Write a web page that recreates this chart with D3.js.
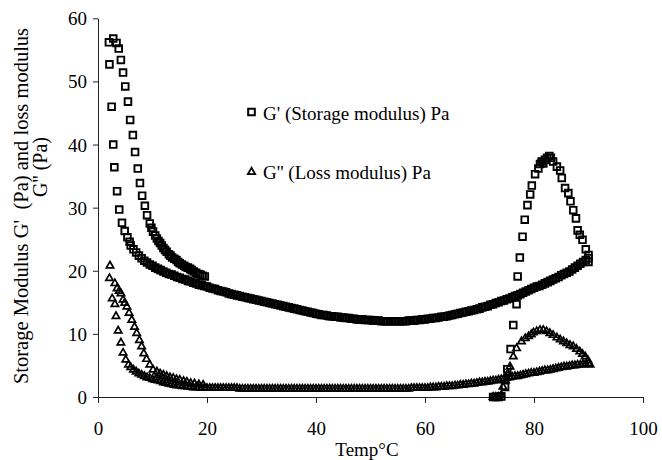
<!DOCTYPE html>
<html><head><meta charset="utf-8">
<script src="https://cdn.jsdelivr.net/npm/d3@7"></script>
<style>
body{margin:0;background:#fff}
svg text{font-family:"Liberation Serif","Times New Roman",serif;fill:#000}
</style>
</head><body>
<svg id="chart" width="662" height="460"></svg>
<script>
// ---------- DATA ----------
const xTicks = [0, 20, 40, 60, 80, 100];
const yTicks = [0, 10, 20, 30, 40, 50, 60];
const xTitle = "Temp\u00B0C";
const yTitle1 = "Storage Modulus G'  (Pa) and loss modulus";
const yTitle2 = "G'' (Pa)";
const legendLabels = ["G' (Storage modulus) Pa", "G'' (Loss modulus) Pa"];

// dense common band (both moduli sampled at the same temperatures)
const bandTemp = [
  6,6.5,7,7.5,8,8.5,9,9.5,10,10.5,
  11,11.5,12,12.5,13,13.5,14,14.5,15,15.5,
  16,16.5,17,17.5,18,18.5,19,19.5,20,20.5,
  21,21.5,22,22.5,23,23.5,24,24.5,25,25.5,
  26,26.5,27,27.5,28,28.5,29,29.5,30,30.5,
  31,31.5,32,32.5,33,33.5,34,34.5,35,35.5,
  36,36.5,37,37.5,38,38.5,39,39.5,40,40.5,
  41,41.5,42,42.5,43,43.5,44,44.5,45,45.5,
  46,46.5,47,47.5,48,48.5,49,49.5,50,50.5,
  51,51.5,52,52.5,53,53.5,54,54.5,55,55.5,
  56,56.5,57,57.5,58,58.5,59,59.5,60,60.5,
  61,61.5,62,62.5,63,63.5,64,64.5,65,65.5,
  66,66.5,67,67.5,68,68.5,69,69.5,70,70.5,
  71,71.5,72,72.5,73,73.5,74,74.5,75,75.5,
  76,76.5,77,77.5,78,78.5,79,79.5,80,80.5,
  81,81.5,82,82.5,83,83.5,84,84.5,85,85.5,
  86,86.5,87,87.5,88,88.5,89,89.5,90
];
const bandStorage = [
  24.0,23.4,22.9,22.4,22.0,21.6,21.3,21.0,20.8,20.5,
  20.3,20.1,19.9,19.7,19.5,19.4,19.2,19.0,18.9,18.7,
  18.6,18.4,18.3,18.1,18.0,17.8,17.7,17.6,17.5,17.3,
  17.2,17.1,16.9,16.8,16.7,16.6,16.4,16.3,16.2,16.1,
  16.0,15.9,15.8,15.7,15.6,15.5,15.4,15.3,15.2,15.1,
  15.0,14.9,14.8,14.7,14.6,14.5,14.4,14.3,14.2,14.1,
  14.0,13.9,13.8,13.7,13.6,13.5,13.4,13.3,13.2,13.1,
  13.0,13.0,12.9,12.8,12.8,12.7,12.7,12.6,12.6,12.5,
  12.5,12.4,12.4,12.3,12.3,12.3,12.2,12.2,12.2,12.1,
  12.1,12.1,12.0,12.0,12.0,12.0,12.0,12.0,12.0,12.0,
  12.0,12.0,12.1,12.1,12.1,12.2,12.2,12.3,12.3,12.4,
  12.4,12.5,12.5,12.6,12.7,12.7,12.8,12.9,13.0,13.1,
  13.2,13.3,13.4,13.5,13.6,13.7,13.8,13.9,14.0,14.2,
  14.3,14.4,14.6,14.7,14.9,15.0,15.2,15.3,15.5,15.6,
  15.8,16.0,16.1,16.3,16.5,16.7,16.9,17.1,17.3,17.5,
  17.6,17.8,18.0,18.2,18.4,18.6,18.8,19.0,19.3,19.5,
  19.7,19.9,20.2,20.5,20.8,21.1,21.4,21.7,22.0
];
const bandLoss = [
  4.7,4.3,4.0,3.7,3.5,3.3,3.1,3.0,2.8,2.7,
  2.6,2.5,2.3,2.2,2.1,2.0,1.9,1.8,1.8,1.7,
  1.7,1.6,1.6,1.5,1.5,1.5,1.4,1.4,1.4,1.4,
  1.4,1.4,1.4,1.4,1.4,1.4,1.4,1.4,1.4,1.4,
  1.3,1.3,1.3,1.3,1.3,1.3,1.3,1.3,1.3,1.3,
  1.3,1.3,1.3,1.3,1.3,1.3,1.3,1.3,1.3,1.3,
  1.3,1.3,1.3,1.3,1.3,1.3,1.3,1.3,1.3,1.3,
  1.3,1.3,1.3,1.3,1.3,1.3,1.3,1.3,1.3,1.3,
  1.3,1.3,1.3,1.3,1.3,1.3,1.3,1.3,1.3,1.3,
  1.3,1.3,1.3,1.3,1.3,1.3,1.3,1.3,1.3,1.3,
  1.3,1.3,1.3,1.4,1.4,1.4,1.4,1.4,1.4,1.4,
  1.5,1.5,1.5,1.6,1.6,1.6,1.7,1.7,1.7,1.8,
  1.8,1.9,1.9,2.0,2.0,2.1,2.1,2.2,2.3,2.3,
  2.4,2.4,2.5,2.6,2.6,2.7,2.8,2.9,3.0,3.1,
  3.2,3.3,3.3,3.4,3.5,3.6,3.7,3.8,3.8,3.9,
  4.0,4.1,4.2,4.2,4.3,4.4,4.5,4.6,4.7,4.8,
  4.8,4.9,5.0,5.0,5.1,5.1,5.2,5.2,5.3
];

// G' (storage) low-temperature branches
const storageInnerTemp = [2.0,2.1,2.5,2.8,3.0,3.5,3.9,4.4,4.9,5.4,5.8];
const storageInnerVal  = [56.2,52.7,46.0,40.0,36.4,32.6,29.7,27.6,26.3,25.3,24.6];
const storageOuterTemp = [2.8,3.4,3.8,4.2,4.6,5.0,5.5,5.9,6.4,6.8,7.3,7.7,8.1,8.6,9.0,9.5,9.8,10.1,10.5,10.8,11.1,11.4,11.7,12.0,12.3,12.6,13.0,13.3,13.6,14.0,14.4,14.7,15.0,15.4,15.8,16.1,16.5,16.9,17.2,17.6,18.0,18.4,18.8,19.2,19.6];
const storageOuterVal  = [56.8,56.1,55.2,53.4,51.4,49.2,46.8,43.9,41.5,38.8,36.2,33.9,31.9,30.3,28.8,27.5,26.8,26.2,25.6,25.1,24.7,24.4,24.0,23.6,23.3,23.0,22.6,22.4,22.1,21.9,21.7,21.4,21.2,21.0,20.8,20.6,20.5,20.3,20.1,19.9,19.7,19.5,19.4,19.2,19.1];
// G' (storage) high-temperature peak
const storagePeakTemp = [72.5,73.0,73.5,74.0,74.7,75.1,75.7,76.2,76.8,77.0,77.4,77.9,78.3,78.8,79.3,79.6,80.2,80.8,81.1,81.4,81.7,82.0,82.4,82.8,83.1,83.5,84.2,84.8,85.1,85.7,86.3,86.7,87.2,87.7,88.0,88.4,88.9,89.5,90.0,90.0];
const storagePeakVal  = [0.0,0.0,0.0,0.1,1.6,4.4,7.6,11.4,14.7,19.1,22.1,25.4,28.1,30.4,32.1,33.5,35.3,36.2,36.9,37.3,37.0,37.6,37.9,38.2,37.9,37.3,36.5,35.9,34.7,33.1,32.3,31.0,29.6,28.3,26.4,25.7,24.9,23.4,22.5,21.4];

// G'' (loss) low-temperature branches
const lossInnerTemp = [2.2,2.6,3.1,3.3,3.7,4.2,4.6,5.1,5.6];
const lossInnerVal  = [20.8,15.6,14.7,12.8,10.5,8.6,7.0,5.9,5.1];
const lossOuterTemp = [2.1,3.1,3.5,3.9,4.2,4.6,4.9,5.3,5.7,6.2,6.7,7.1,7.6,8.0,8.4,8.9,9.5,10.1,10.8,11.4,12.0,12.6,13.2,13.8,14.4,15.0,15.7,16.3,17.0,17.7,18.5,19.3];
const lossOuterVal  = [18.8,18.0,17.2,16.8,16.4,15.4,14.9,14.3,13.3,12.2,11.1,10.1,9.0,8.0,6.9,6.0,5.1,4.3,4.0,3.7,3.5,3.3,3.1,3.0,2.8,2.7,2.5,2.4,2.2,2.1,2.0,1.9];
// G'' (loss) high-temperature loop
const lossPeakTemp = [72.5,73.0,73.5,74.0,74.3,74.8,75.2,75.6,76.2,76.8,77.7,78.4,79.0,79.5,79.9,80.5,81.1,81.7,82.3,82.9,83.5,84.2,84.8,85.4,86.0,86.6,87.2,87.8,88.4,88.9,89.4,89.9,90.3];
const lossPeakVal  = [0.0,0.0,0.0,0.3,1.6,2.6,3.7,4.8,6.4,7.7,8.8,9.3,9.6,9.9,10.2,10.4,10.6,10.6,10.4,10.1,9.8,9.4,9.1,8.8,8.5,8.2,8.0,7.6,7.2,6.8,6.4,5.8,5.1];

// ---------- DRAW ----------
const svg = d3.select("#chart");
const x = d3.scaleLinear().domain([0, 100]).range([98, 643]);
const y = d3.scaleLinear().domain([0, 60]).range([397, 18.3]);

const pairs = (t, v) => t.map((d, i) => [d, v[i]]);
const storagePts = [].concat(
  pairs(bandTemp, bandStorage),
  pairs(storageInnerTemp, storageInnerVal),
  pairs(storageOuterTemp, storageOuterVal),
  pairs(storagePeakTemp, storagePeakVal));
const lossPts = [].concat(
  pairs(bandTemp, bandLoss),
  pairs(lossInnerTemp, lossInnerVal),
  pairs(lossOuterTemp, lossOuterVal),
  pairs(lossPeakTemp, lossPeakVal));

const sq = d3.symbol().type(d3.symbolSquare).size(44)();
const tri = d3.symbol().type(d3.symbolTriangle).size(23)();

// axes
const xAxis = svg.append("g").attr("transform", "translate(0,397)")
  .call(d3.axisBottom(x).tickValues(xTicks).tickSize(6).tickSizeOuter(0).tickPadding(16));
const yAxis = svg.append("g").attr("transform", "translate(98,0)")
  .call(d3.axisLeft(y).tickValues(yTicks).tickSize(5).tickSizeOuter(0).tickPadding(6));
[xAxis, yAxis].forEach(g => {
  g.attr("font-family", null).attr("font-size", null);
  g.selectAll("path,line").attr("stroke", "#222").attr("stroke-width", 1);
  g.selectAll("text").style("font-size", "19px");
});
xAxis.selectAll("text").attr("dy", null).attr("y", 37.5);
yAxis.selectAll("text").attr("dy", "0.34em");

// points
svg.append("g").selectAll("path").data(lossPts).join("path")
  .attr("d", tri)
  .attr("transform", d => `translate(${x(d[0])},${y(d[1])})`)
  .attr("fill", "none").attr("stroke", "#000").attr("stroke-width", 1.7);
svg.append("g").selectAll("path").data(storagePts).join("path")
  .attr("d", sq)
  .attr("transform", d => `translate(${x(d[0])},${y(d[1])})`)
  .attr("fill", "none").attr("stroke", "#000").attr("stroke-width", 1.9);

// titles
svg.append("text").attr("x", 367).attr("y", 456).attr("text-anchor", "middle")
  .style("font-size", "19px").text(xTitle);
svg.append("text").attr("transform", "translate(28,206) rotate(-90)")
  .attr("text-anchor", "middle").style("font-size", "20.5px")
  .style("white-space", "pre").attr("xml:space", "preserve").text(yTitle1);
svg.append("text").attr("transform", "translate(47,167) rotate(-90)")
  .attr("text-anchor", "middle").style("font-size", "20px").text(yTitle2);

// legend
const leg = svg.append("g");
leg.append("path").attr("d", sq).attr("transform", "translate(251.5,112)")
  .attr("fill", "none").attr("stroke", "#000").attr("stroke-width", 2);
leg.append("text").attr("x", 263).attr("y", 120).style("font-size", "19px").text(legendLabels[0]);
leg.append("path").attr("d", tri).attr("transform", "translate(251.5,172)")
  .attr("fill", "none").attr("stroke", "#000").attr("stroke-width", 1.8);
leg.append("text").attr("x", 263).attr("y", 179).style("font-size", "19px").text(legendLabels[1]);
</script>
</body></html>
